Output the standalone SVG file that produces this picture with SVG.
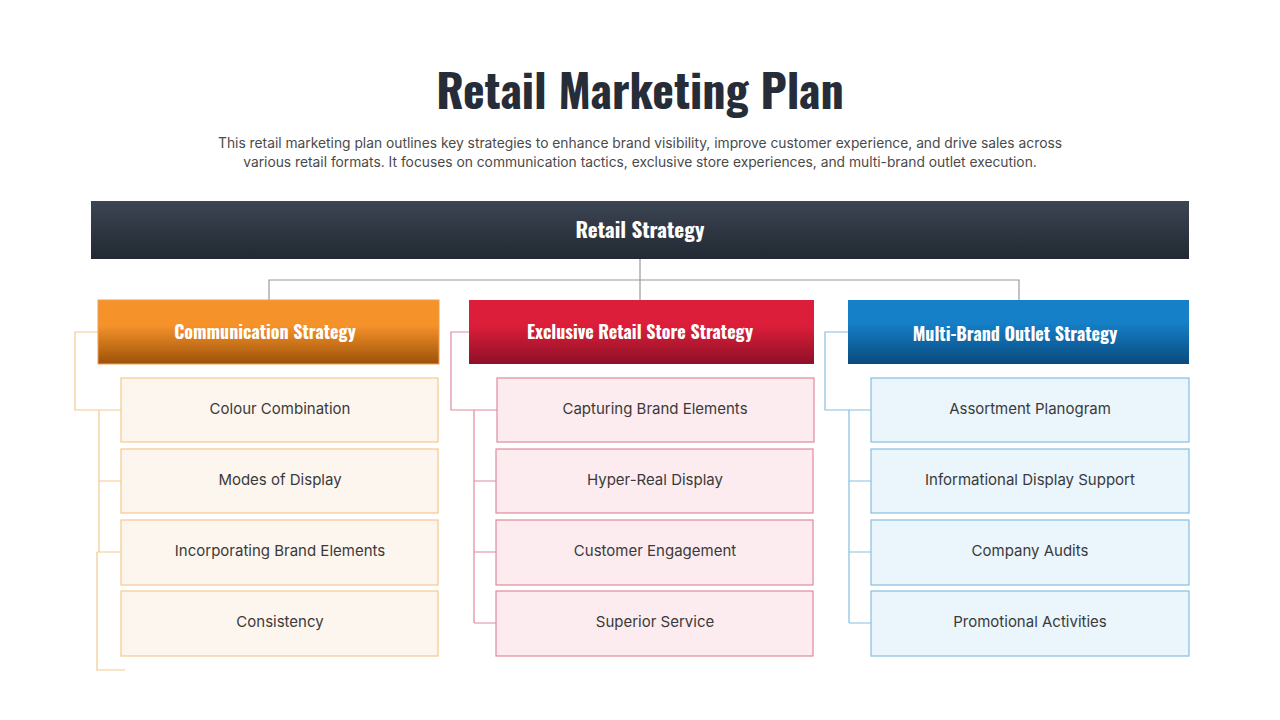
<svg xmlns="http://www.w3.org/2000/svg" width="1280" height="720" viewBox="0 0 1280 720">
<style>
.t{font-family:"Oswald","DejaVu Sans Condensed","Liberation Sans",sans-serif;font-weight:bold;font-stretch:condensed;fill:#fff;text-anchor:middle}
.d{font-family:"Inter","Liberation Sans",sans-serif;font-size:13.8px;fill:#4a4a4a;text-anchor:middle}
.i{font-family:"Inter","Liberation Sans",sans-serif;font-size:15px;fill:#3a3a3a;text-anchor:middle}
.o rect{fill:#fdf6ee;stroke:#f5c990;stroke-width:1.2}
.r rect{fill:#fcecef;stroke:#e08a9c;stroke-width:1.2}
.b rect{fill:#eaf5fc;stroke:#86bfe0;stroke-width:1.2}
.c line,.c path{fill:none;stroke-width:1.2}
</style>
<defs>
<linearGradient id="gk" x1="0" y1="0" x2="0" y2="1"><stop offset="0" stop-color="#3c4553"/><stop offset="1" stop-color="#222933"/></linearGradient>
<linearGradient id="go" x1="0" y1="0" x2="0" y2="1"><stop offset="0.4" stop-color="#f5922a"/><stop offset="1" stop-color="#9c5108"/></linearGradient>
<linearGradient id="gr" x1="0" y1="0" x2="0" y2="1"><stop offset="0.4" stop-color="#dc1e3a"/><stop offset="1" stop-color="#8e1027"/></linearGradient>
<linearGradient id="gb" x1="0" y1="0" x2="0" y2="1"><stop offset="0.35" stop-color="#1580c8"/><stop offset="1" stop-color="#0a4a7e"/></linearGradient>
</defs>
<rect width="1280" height="720" fill="#fff"/>
<text x="640" y="109" class="t" style="fill:#262d38;font-size:46px">Retail Marketing Plan</text>
<text x="640" y="148" class="d">This retail marketing plan outlines key strategies to enhance brand visibility, improve customer experience, and drive sales across</text>
<text x="640" y="167" class="d">various retail formats. It focuses on communication tactics, exclusive store experiences, and multi-brand outlet execution.</text>
<g class="c">
<path d="M640 259V300M269 300V280H1019V300" stroke="#9a9a9a"/>
<path d="M98 332H75V410H121M99 410V552M97 552V670H125M99 481H121M97 552H121" stroke="#f5c990"/>
<path d="M469 332H451V410H497M474 410V623M474 481H496M474 552H496M474 623H496" stroke="#e08a9c"/>
<path d="M848 332H825V410H871M849 410V623M849 481H871M849 552H871M849 623H871" stroke="#86bfe0"/>
</g>
<g id="root"><rect x="91" y="201" width="1098" height="58" fill="url(#gk)"/><text x="640" y="238" class="t" style="font-size:21px">Retail Strategy</text></g>
<g id="comm"><rect x="98" y="300" width="341" height="64" fill="url(#go)" stroke="#f0a050"/><text x="265" y="339" class="t" style="font-size:18px">Communication Strategy</text></g>
<g id="excl"><rect x="469" y="300" width="345" height="64" fill="url(#gr)"/><text x="640" y="339" class="t" style="font-size:18px">Exclusive Retail Store Strategy</text></g>
<g id="multi"><rect x="848" y="300" width="341" height="64" fill="url(#gb)"/><text x="1015" y="341" class="t" style="font-size:18px">Multi-Brand Outlet Strategy</text></g>
<g class="o">
<g id="o1"><rect x="121" y="378" width="317" height="64"/><text x="280" y="414" class="i">Colour Combination</text></g>
<g id="o2"><rect x="121" y="449" width="317" height="64"/><text x="280" y="485" class="i">Modes of Display</text></g>
<g id="o3"><rect x="121" y="520" width="317" height="65"/><text x="280" y="556" class="i">Incorporating Brand Elements</text></g>
<g id="o4"><rect x="121" y="591" width="317" height="65"/><text x="280" y="627" class="i">Consistency</text></g>
</g>
<g class="r">
<g id="r1"><rect x="497" y="378" width="317" height="64"/><text x="655" y="414" class="i">Capturing Brand Elements</text></g>
<g id="r2"><rect x="496" y="449" width="317" height="64"/><text x="655" y="485" class="i">Hyper-Real Display</text></g>
<g id="r3"><rect x="496" y="520" width="317" height="65"/><text x="655" y="556" class="i">Customer Engagement</text></g>
<g id="r4"><rect x="496" y="591" width="317" height="65"/><text x="655" y="627" class="i">Superior Service</text></g>
</g>
<g class="b">
<g id="b1"><rect x="871" y="378" width="318" height="64"/><text x="1030" y="414" class="i">Assortment Planogram</text></g>
<g id="b2"><rect x="871" y="449" width="318" height="64"/><text x="1030" y="485" class="i">Informational Display Support</text></g>
<g id="b3"><rect x="871" y="520" width="318" height="65"/><text x="1030" y="556" class="i">Company Audits</text></g>
<g id="b4"><rect x="871" y="591" width="318" height="65"/><text x="1030" y="627" class="i">Promotional Activities</text></g>
</g>
</svg>
